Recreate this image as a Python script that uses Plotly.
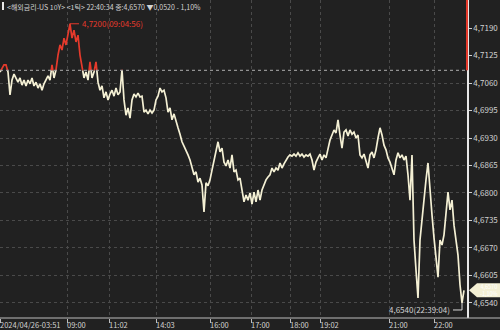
import numpy as np
import plotly.graph_objects as go

# ---- data (US 10Y yield, 1-tick chart) ----
prices = [
    4.7086, 4.7095, 4.7103, 4.7103, 4.7086, 4.7032, 4.7067, 4.7081, 4.7072, 4.7062,
    4.7072, 4.7055, 4.7067, 4.7053, 4.7067, 4.7058, 4.7072, 4.7053, 4.7062, 4.7048,
    4.7058, 4.7043, 4.7058, 4.7067, 4.7077, 4.7067, 4.7103, 4.7072, 4.7091, 4.7126,
    4.7150, 4.7138, 4.7166, 4.7150, 4.7178, 4.7200, 4.7166, 4.7185, 4.7157, 4.7173,
    4.7126, 4.7098, 4.7072, 4.7086, 4.7067, 4.7110, 4.7072, 4.7086, 4.7110, 4.7062,
    4.7043, 4.7053, 4.7025, 4.7039, 4.7020, 4.7034, 4.7043, 4.7029, 4.7048, 4.7032,
    4.7039, 4.7091, 4.7020, 4.6984, 4.7001, 4.6977, 4.7020, 4.7034, 4.7027, 4.7036,
    4.7027, 4.7029, 4.6991, 4.6996, 4.6987, 4.6996, 4.6989, 4.6996, 4.7020, 4.7029,
    4.7048, 4.7039, 4.7043, 4.7025, 4.6991, 4.7001, 4.6973, 4.6987, 4.6968, 4.6954,
    4.6939, 4.6921, 4.6911, 4.6902, 4.6890, 4.6878, 4.6859, 4.6843, 4.6850, 4.6826,
    4.6835, 4.6819, 4.6755, 4.6824, 4.6817, 4.6831, 4.6854, 4.6878, 4.6902, 4.6921,
    4.6897, 4.6906, 4.6873, 4.6864, 4.6878, 4.6859, 4.6890, 4.6850, 4.6854, 4.6831,
    4.6835, 4.6807, 4.6779, 4.6795, 4.6783, 4.6800, 4.6774, 4.6802, 4.6779, 4.6807,
    4.6783, 4.6807, 4.6819, 4.6831, 4.6838, 4.6843, 4.6859, 4.6850, 4.6859, 4.6854,
    4.6871, 4.6859, 4.6869, 4.6878, 4.6885, 4.6890, 4.6887, 4.6892, 4.6887, 4.6895,
    4.6887, 4.6892, 4.6885, 4.6890, 4.6887, 4.6892, 4.6878, 4.6854, 4.6873, 4.6883,
    4.6892, 4.6878, 4.6890, 4.6883, 4.6906, 4.6925, 4.6937, 4.6949, 4.6942, 4.6973,
    4.6937, 4.6906, 4.6944, 4.6949, 4.6935, 4.6949, 4.6939, 4.6944, 4.6930, 4.6937,
    4.6890, 4.6883, 4.6892, 4.6878, 4.6859, 4.6890, 4.6897, 4.6883, 4.6902, 4.6930,
    4.6954, 4.6937, 4.6913, 4.6902, 4.6883, 4.6873, 4.6859, 4.6843, 4.6878, 4.6895,
    4.6883, 4.6890, 4.6878, 4.6887, 4.6843, 4.6783, 4.6890, 4.6689, 4.6618, 4.6552,
    4.6689, 4.6736, 4.6795, 4.6831, 4.6871, 4.6819, 4.6748, 4.6694, 4.6637, 4.6601,
    4.6689, 4.6677, 4.6701, 4.6748, 4.6802, 4.6760, 4.6783, 4.6724, 4.6684, 4.6653,
    4.6583, 4.6540, 4.6570,
]
prev_close = 4.7090
last_price = 4.6570
change_text = "-1,10%"
max_time = "09:04:56"
min_time = "22:39:04"
header_text = "&lt;해외금리-US 10Y&gt; &lt;1틱&gt; 22:40:34 종:4,6570 ▼0,0520 - 1,10%"

x_tick_pos = [0, 33.5, 54.5, 78, 105, 125.5, 145, 160, 194.5, 217]
x_tick_text = ["2024/04/26-03:51", "09:00", "11:02", "14:03", "16:00",
               "17:00", "18:00", "19:02", "21:00", "22:00"]
y_tick_vals = [4.6540, 4.6605, 4.6670, 4.6735, 4.6800, 4.6865,
               4.6930, 4.6995, 4.7060, 4.7125, 4.7190]
y_tick_text = ["4,6540", "4,6605", "4,6670", "4,6735", "4,6800", "4,6865",
               "4,6930", "4,6995", "4,7060", "4,7125", "4,7190"]

# ---- styling ----
BG = "#212121"
CREAM = "#f4f0d4"
RED = "#e53a2c"
GRID = "#4a4a4a"
TXT = "#d2d2d2"
FONT = "Liberation Sans Narrow, Noto Sans CJK KR, sans-serif"

y_lo, y_hi = 4.65045, 4.72562
x_lo, x_hi = 0, 233.5
W, H = 500, 330
ML, MR, MT, MB = 0, 33, 0, 12
PW = W - ML - MR
PH = H - MT - MB

def px_to_paper_x(px):
    return (px - ML) / PW

def px_to_paper_y(py):
    return 1 - (py - MT) / PH

vals = np.array(prices)
xs = np.arange(len(vals))
unit = (y_hi - y_lo) / PH           # value per pixel

fig = go.Figure()
fig.add_trace(go.Scatter(x=xs, y=vals, mode="lines",
                         line=dict(color=CREAM, width=1.7), hoverinfo="skip",
                         xaxis="x", yaxis="y"))
fig.add_trace(go.Scatter(x=xs, y=vals, mode="lines",
                         line=dict(color=RED, width=1.7), hoverinfo="skip",
                         xaxis="x", yaxis="y2"))

d = (prev_close - y_lo) / (y_hi - y_lo)

shapes = []
shapes.append(dict(type="line", xref="x", yref="y", x0=x_lo, x1=x_hi,
                   y0=prev_close, y1=prev_close,
                   line=dict(color="#b0b0b0", width=1, dash="dot"), layer="above"))
shapes.append(dict(type="line", xref="paper", yref="y", x0=1, x1=1,
                   y0=prev_close, y1=y_hi, line=dict(color=RED, width=2), layer="above"))
shapes.append(dict(type="line", xref="paper", yref="paper", x0=0, x1=px_to_paper_x(W),
                   y0=0, y1=0, line=dict(color="#bdbdbd", width=1), layer="above"))
shapes.append(dict(type="rect", xref="paper", yref="paper",
                   x0=px_to_paper_x(2), x1=px_to_paper_x(4),
                   y0=px_to_paper_y(10), y1=px_to_paper_y(2),
                   fillcolor="#e8e8e8", line=dict(width=0), layer="above"))

imax = int(np.argmax(vals)); vmax = vals[imax]
imin = int(np.argmin(vals)); vmin = vals[imin]
shapes.append(dict(type="line", xref="x", yref="y", x0=imax, x1=imax + 4.5,
                   y0=vmax, y1=vmax, line=dict(color=RED, width=1)))
off = 7 * unit
shapes.append(dict(type="path", xref="x", yref="y",
                   path=f"M {imin},{vmin} L {imin},{vmin - off} L {imin - 4.5},{vmin - off}",
                   line=dict(color="#d8d8d8", width=1)))

bh = 7 * unit
tip = px_to_paper_x(469); cx = px_to_paper_x(477); rx = px_to_paper_x(W)
shapes.append(dict(type="path", xref="paper", yref="y",
                   path=(f"M {tip},{last_price} L {cx},{last_price + bh} L {rx},{last_price + bh} "
                         f"L {rx},{last_price - bh} L {cx},{last_price - bh} Z"),
                   fillcolor=CREAM, line=dict(width=0), layer="above"))

annotations = []
annotations.append(dict(xref="paper", yref="paper", x=px_to_paper_x(5), y=px_to_paper_y(7),
                        xanchor="left", yanchor="middle", showarrow=False,
                        text=header_text, font=dict(family=FONT, size=7, color=TXT)))
annotations.append(dict(xref="x", yref="y", x=imax + 5, y=vmax, xanchor="left",
                        yanchor="middle", showarrow=False,
                        text=f"{vmax:.4f}".replace(".", ",") + f"({max_time})",
                        font=dict(family=FONT, size=8, color=RED)))
annotations.append(dict(xref="x", yref="y", x=imin - 5, y=vmin - off, xanchor="right",
                        yanchor="middle", showarrow=False,
                        text=f"{vmin:.4f}".replace(".", ",") + f"({min_time})",
                        font=dict(family=FONT, size=8, color=TXT)))
# text inside current price box
annotations.append(dict(xref="paper", yref="y", x=px_to_paper_x(489), y=last_price,
                        xanchor="center", yanchor="middle", showarrow=False, borderpad=0,
                        text=f"{last_price:.4f}".replace(".", ",") + "<br>" + change_text,
                        font=dict(family=FONT, size=5.5, color="#ffffff")))
for p, t in zip(x_tick_pos, x_tick_text):
    annotations.append(dict(xref="x", yref="paper", x=p, y=px_to_paper_y(324),
                            xanchor="left", yanchor="middle", showarrow=False, xshift=-1,
                            borderpad=0,
                            text=t, font=dict(family=FONT, size=7.5, color=TXT)))

fig.update_layout(
    width=W, height=H,
    margin=dict(l=ML, r=MR, t=MT, b=MB, pad=0),
    paper_bgcolor=BG, plot_bgcolor=BG,
    showlegend=False,
    xaxis=dict(range=[x_lo, x_hi], tickvals=x_tick_pos, showticklabels=False,
               ticks="outside", ticklen=4, tickcolor="#bdbdbd",
               showgrid=True, gridcolor=GRID, griddash="dot", gridwidth=1,
               zeroline=False, showline=False, fixedrange=True),
    yaxis=dict(range=[y_lo, y_hi], side="right", tickvals=y_tick_vals, ticktext=y_tick_text,
               ticks="outside", ticklen=3, tickcolor="#d0d0d0",
               tickfont=dict(family=FONT, size=8, color=TXT),
               showgrid=True, gridcolor=GRID, griddash="dot", gridwidth=1,
               showline=True, linecolor="#e8e8e8", linewidth=1.5,
               zeroline=False, fixedrange=True),
    yaxis2=dict(range=[prev_close, y_hi], domain=[d, 1], anchor="x", visible=False,
                showgrid=False, fixedrange=True),
    shapes=shapes,
    annotations=annotations,
)

fig.write_html("out.html")
